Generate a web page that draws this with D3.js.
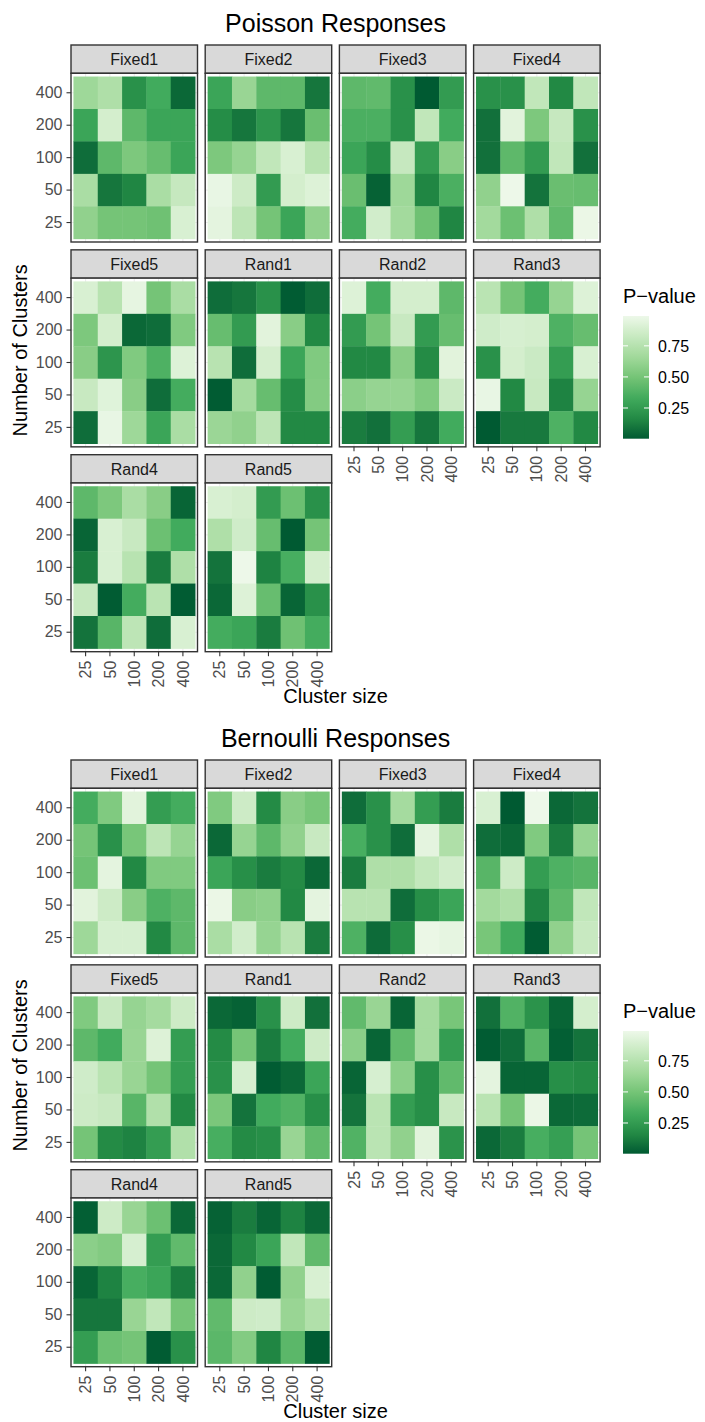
<!DOCTYPE html>
<html>
<head>
<meta charset="utf-8">
<script src="https://cdn.jsdelivr.net/npm/d3@7"></script>
<style>
  body { margin: 0; background: #fff; }
  text { font-family: 'Liberation Sans', Arial, sans-serif; }
</style>
</head>
<body>
<svg id="chart" width="705" height="1422"></svg>
<script>
const clusterSizes = [25, 50, 100, 200, 400];
// rows are listed top to bottom
const clusterCounts = [400, 200, 100, 50, 25];
const panelNames = ['Fixed1', 'Fixed2', 'Fixed3', 'Fixed4', 'Fixed5', 'Rand1', 'Rand2', 'Rand3', 'Rand4', 'Rand5'];

// Poisson responses, p-values
const poissonFixed1 = [
  [0.65, 0.72, 0.20, 0.33, 0.05],
  [0.30, 0.88, 0.42, 0.30, 0.30],
  [0.07, 0.42, 0.53, 0.45, 0.30],
  [0.70, 0.10, 0.15, 0.70, 0.82],
  [0.60, 0.50, 0.50, 0.48, 0.90],
];
const poissonFixed2 = [
  [0.30, 0.63, 0.42, 0.42, 0.10],
  [0.18, 0.10, 0.22, 0.10, 0.46],
  [0.53, 0.62, 0.80, 0.90, 0.76],
  [0.97, 0.85, 0.25, 0.88, 0.92],
  [0.95, 0.78, 0.50, 0.30, 0.60],
];
const poissonFixed3 = [
  [0.42, 0.43, 0.20, 0.003, 0.25],
  [0.36, 0.36, 0.20, 0.80, 0.33],
  [0.30, 0.18, 0.82, 0.25, 0.57],
  [0.46, 0.03, 0.65, 0.15, 0.36],
  [0.34, 0.87, 0.67, 0.48, 0.15],
];
const poissonFixed4 = [
  [0.20, 0.20, 0.80, 0.16, 0.80],
  [0.08, 0.94, 0.53, 0.82, 0.20],
  [0.08, 0.42, 0.25, 0.80, 0.08],
  [0.60, 0.99, 0.09, 0.46, 0.45],
  [0.67, 0.47, 0.72, 0.43, 0.98],
];
const poissonFixed5 = [
  [0.90, 0.76, 0.96, 0.50, 0.70],
  [0.53, 0.88, 0.05, 0.07, 0.54],
  [0.57, 0.22, 0.54, 0.37, 0.92],
  [0.83, 0.93, 0.57, 0.07, 0.34],
  [0.07, 0.97, 0.65, 0.30, 0.70],
];
const poissonRand1 = [
  [0.07, 0.10, 0.20, 0.01, 0.07],
  [0.45, 0.25, 0.94, 0.57, 0.16],
  [0.76, 0.07, 0.88, 0.30, 0.54],
  [0.01, 0.68, 0.45, 0.18, 0.55],
  [0.64, 0.60, 0.78, 0.16, 0.16],
];
const poissonRand2 = [
  [0.92, 0.34, 0.88, 0.88, 0.42],
  [0.25, 0.50, 0.83, 0.25, 0.45],
  [0.16, 0.16, 0.57, 0.17, 0.94],
  [0.58, 0.62, 0.62, 0.54, 0.84],
  [0.12, 0.08, 0.26, 0.10, 0.33],
];
const poissonRand3 = [
  [0.77, 0.50, 0.34, 0.62, 0.92],
  [0.86, 0.89, 0.88, 0.37, 0.45],
  [0.20, 0.88, 0.84, 0.26, 0.90],
  [0.97, 0.16, 0.83, 0.14, 0.62],
  [0.003, 0.11, 0.11, 0.37, 0.16],
];
const poissonRand4 = [
  [0.42, 0.53, 0.70, 0.57, 0.04],
  [0.04, 0.90, 0.83, 0.47, 0.33],
  [0.12, 0.90, 0.76, 0.12, 0.72],
  [0.82, 0.01, 0.34, 0.77, 0.01],
  [0.09, 0.40, 0.78, 0.07, 0.90],
];
const poissonRand5 = [
  [0.90, 0.88, 0.25, 0.47, 0.20],
  [0.72, 0.86, 0.45, 0.003, 0.50],
  [0.09, 0.99, 0.14, 0.35, 0.88],
  [0.05, 0.92, 0.45, 0.04, 0.20],
  [0.34, 0.30, 0.12, 0.48, 0.34],
];

// Bernoulli responses, p-values
const bernoulliFixed1 = [
  [0.34, 0.54, 0.94, 0.26, 0.34],
  [0.50, 0.20, 0.51, 0.78, 0.62],
  [0.47, 0.95, 0.16, 0.54, 0.54],
  [0.94, 0.85, 0.57, 0.37, 0.42],
  [0.65, 0.89, 0.89, 0.16, 0.42],
];
const bernoulliFixed2 = [
  [0.54, 0.85, 0.17, 0.57, 0.51],
  [0.05, 0.62, 0.42, 0.60, 0.83],
  [0.30, 0.19, 0.12, 0.17, 0.05],
  [0.98, 0.57, 0.59, 0.16, 0.95],
  [0.70, 0.87, 0.62, 0.76, 0.12],
];
const bernoulliFixed3 = [
  [0.07, 0.20, 0.68, 0.26, 0.12],
  [0.35, 0.20, 0.07, 0.95, 0.72],
  [0.12, 0.72, 0.72, 0.81, 0.87],
  [0.76, 0.76, 0.07, 0.19, 0.30],
  [0.37, 0.06, 0.19, 0.98, 0.96],
];
const bernoulliFixed4 = [
  [0.90, 0.003, 0.99, 0.05, 0.09],
  [0.07, 0.05, 0.54, 0.12, 0.62],
  [0.40, 0.85, 0.26, 0.37, 0.40],
  [0.67, 0.72, 0.14, 0.42, 0.80],
  [0.51, 0.33, 0.01, 0.60, 0.83],
];
const bernoulliFixed5 = [
  [0.54, 0.83, 0.62, 0.68, 0.85],
  [0.42, 0.33, 0.63, 0.92, 0.26],
  [0.86, 0.77, 0.63, 0.50, 0.26],
  [0.85, 0.83, 0.40, 0.73, 0.16],
  [0.50, 0.17, 0.14, 0.26, 0.73],
];
const bernoulliRand1 = [
  [0.05, 0.03, 0.20, 0.85, 0.08],
  [0.17, 0.50, 0.12, 0.33, 0.85],
  [0.20, 0.89, 0.01, 0.05, 0.30],
  [0.52, 0.09, 0.33, 0.38, 0.19],
  [0.35, 0.17, 0.19, 0.63, 0.43],
];
const bernoulliRand2 = [
  [0.43, 0.63, 0.04, 0.68, 0.51],
  [0.58, 0.04, 0.43, 0.68, 0.26],
  [0.04, 0.89, 0.58, 0.19, 0.43],
  [0.09, 0.77, 0.26, 0.19, 0.83],
  [0.38, 0.77, 0.60, 0.94, 0.21],
];
const bernoulliRand3 = [
  [0.08, 0.38, 0.21, 0.04, 0.88],
  [0.01, 0.07, 0.40, 0.02, 0.09],
  [0.95, 0.04, 0.04, 0.19, 0.17],
  [0.77, 0.50, 0.98, 0.05, 0.06],
  [0.05, 0.12, 0.35, 0.27, 0.50],
];
const bernoulliRand4 = [
  [0.02, 0.85, 0.63, 0.47, 0.05],
  [0.58, 0.55, 0.89, 0.26, 0.43],
  [0.04, 0.14, 0.35, 0.30, 0.12],
  [0.10, 0.10, 0.63, 0.80, 0.50],
  [0.26, 0.47, 0.50, 0.01, 0.20],
];
const bernoulliRand5 = [
  [0.03, 0.12, 0.04, 0.14, 0.05],
  [0.05, 0.16, 0.30, 0.80, 0.43],
  [0.05, 0.60, 0.01, 0.60, 0.90],
  [0.43, 0.85, 0.86, 0.63, 0.73],
  [0.41, 0.55, 0.15, 0.41, 0.01],
];

const legendTicks = [0.25, 0.5, 0.75];
// ColorBrewer Greens (7), reversed: low p-value = dark
const greens = ['#005A32', '#238B45', '#41AB5D', '#74C476', '#A1D99B', '#C7E9C0', '#EDF8E9'];

const poisson = [poissonFixed1, poissonFixed2, poissonFixed3, poissonFixed4, poissonFixed5,
  poissonRand1, poissonRand2, poissonRand3, poissonRand4, poissonRand5];
const bernoulli = [bernoulliFixed1, bernoulliFixed2, bernoulliFixed3, bernoulliFixed4, bernoulliFixed5,
  bernoulliRand1, bernoulliRand2, bernoulliRand3, bernoulliRand4, bernoulliRand5];

const svg = d3.select('#chart');

const panelLeft = 71;
const panelPitchX = 134.2;
const panelWidth = 126.5;
const stripTop = 45;
const stripHeight = 28.3;
const panelHeight = 168.7;
const rowPitch = 204.85;
const lineColor = '#333333';

const drawPlot = (offsetY, title, panels, idPrefix) => {
  const g = svg.append('g').attr('transform', `translate(0, ${offsetY})`);
  const all = panels.flat(2);
  const extent = d3.extent(all);
  const ramp = d3.piecewise(d3.interpolateLab, greens);
  const fill = (v) => ramp((v - extent[0]) / (extent[1] - extent[0]));

  const x = d3.scaleBand().domain(clusterSizes).range([0, panelWidth]).paddingOuter(0.1);
  const y = d3.scaleBand().domain(clusterCounts).range([0, panelHeight]).paddingOuter(0.1);

  const areaRight = panelLeft + 3 * panelPitchX + panelWidth;
  const areaBottom = stripTop + 2 * rowPitch + stripHeight + panelHeight;

  g.append('text')
    .attr('x', (panelLeft + areaRight) / 2)
    .attr('y', 31.5)
    .attr('text-anchor', 'middle')
    .attr('font-size', 25)
    .attr('fill', '#000')
    .text(title);

  panels.forEach((cells, i) => {
    const col = i % 4;
    const row = Math.floor(i / 4);
    const x0 = panelLeft + col * panelPitchX;
    const y0 = stripTop + row * rowPitch;

    // strip
    g.append('rect')
      .attr('x', x0)
      .attr('y', y0)
      .attr('width', panelWidth)
      .attr('height', stripHeight)
      .attr('fill', '#D9D9D9')
      .attr('stroke', lineColor)
      .attr('stroke-width', 1.4);
    g.append('text')
      .attr('x', x0 + panelWidth / 2)
      .attr('y', y0 + stripHeight / 2)
      .attr('dy', '0.36em')
      .attr('text-anchor', 'middle')
      .attr('font-size', 16)
      .attr('fill', '#1A1A1A')
      .text(panelNames[i]);

    const p = g.append('g').attr('transform', `translate(${x0}, ${y0 + stripHeight})`);
    p.append('rect').attr('width', panelWidth).attr('height', panelHeight).attr('fill', '#fff');

    p.selectAll('.gx')
      .data(clusterSizes)
      .enter()
      .append('line')
      .attr('x1', (d) => x(d) + x.bandwidth() / 2)
      .attr('x2', (d) => x(d) + x.bandwidth() / 2)
      .attr('y1', 0)
      .attr('y2', panelHeight)
      .attr('stroke', '#EBEBEB')
      .attr('stroke-width', 1);
    p.selectAll('.gy')
      .data(clusterCounts)
      .enter()
      .append('line')
      .attr('y1', (d) => y(d) + y.bandwidth() / 2)
      .attr('y2', (d) => y(d) + y.bandwidth() / 2)
      .attr('x1', 0)
      .attr('x2', panelWidth)
      .attr('stroke', '#EBEBEB')
      .attr('stroke-width', 1);

    const tiles = [];
    cells.forEach((r, ri) => {
      r.forEach((v, ci) => {
        tiles.push({ size: clusterSizes[ci], count: clusterCounts[ri], value: v });
      });
    });

    p.selectAll('.tile')
      .data(tiles)
      .enter()
      .append('rect')
      .attr('class', 'tile')
      .attr('x', (d) => x(d.size))
      .attr('y', (d) => y(d.count))
      .attr('width', x.bandwidth() + 0.4)
      .attr('height', y.bandwidth() + 0.4)
      .attr('fill', (d) => fill(d.value));

    p.append('rect')
      .attr('width', panelWidth)
      .attr('height', panelHeight)
      .attr('fill', 'none')
      .attr('stroke', lineColor)
      .attr('stroke-width', 1.4);

    if (col === 0) {
      const ay = p.append('g').call(d3.axisLeft(y).tickSize(4.5).tickPadding(4));
      ay.select('.domain').remove();
      ay.selectAll('line').attr('stroke', lineColor).attr('stroke-width', 1.1);
      ay.selectAll('text')
        .attr('font-size', 16)
        .attr('fill', '#4D4D4D');
      ay.attr('font-family', null).attr('font-size', null);
    }

    // x axis on the last panel of each column
    if (i + 4 >= panels.length) {
      const ax = p.append('g')
        .attr('transform', `translate(0, ${panelHeight})`)
        .call(d3.axisBottom(x).tickSize(4.5));
      ax.select('.domain').remove();
      ax.attr('font-family', null).attr('font-size', null);
      ax.selectAll('line').attr('stroke', lineColor).attr('stroke-width', 1.1);
      ax.selectAll('text')
        .attr('x', 0)
        .attr('y', 0)
        .attr('dy', '0.35em')
        .attr('transform', 'translate(0, 9) rotate(-90)')
        .attr('text-anchor', 'end')
        .attr('font-size', 16)
        .attr('fill', '#4D4D4D');
    }
  });

  g.append('text')
    .attr('x', (panelLeft + areaRight) / 2)
    .attr('y', 703)
    .attr('text-anchor', 'middle')
    .attr('font-size', 20)
    .attr('fill', '#000')
    .text('Cluster size');

  g.append('text')
    .attr('transform', `translate(26.5, ${(stripTop + areaBottom) / 2 + 2}) rotate(-90)`)
    .attr('text-anchor', 'middle')
    .attr('font-size', 20)
    .attr('fill', '#000')
    .text('Number of Clusters');

  // legend
  const barX = 623;
  const barW = 26;
  const barTop = 316;
  const barH = 122.7;
  const ly = d3.scaleLinear().domain(extent).range([barTop + barH, barTop]);

  const grad = svg.append('defs')
    .append('linearGradient')
    .attr('id', idPrefix + 'Grad')
    .attr('x1', 0)
    .attr('y1', 1)
    .attr('x2', 0)
    .attr('y2', 0);
  grad.selectAll('stop')
    .data(d3.range(0, 1.0001, 0.05))
    .enter()
    .append('stop')
    .attr('offset', (d) => d)
    .attr('stop-color', (d) => ramp(d));

  g.append('text')
    .attr('x', barX)
    .attr('y', 302.7)
    .attr('font-size', 20)
    .attr('fill', '#000')
    .text('P\u2212value');

  g.append('rect')
    .attr('x', barX)
    .attr('y', barTop)
    .attr('width', barW)
    .attr('height', barH)
    .attr('fill', `url(#${idPrefix}Grad)`);

  const lt = g.selectAll('.lt')
    .data(legendTicks)
    .enter()
    .append('g')
    .attr('transform', (d) => `translate(0, ${ly(d)})`);
  lt.append('line')
    .attr('x1', barX)
    .attr('x2', barX + 5)
    .attr('stroke', '#fff')
    .attr('stroke-width', 1);
  lt.append('line')
    .attr('x1', barX + barW - 5)
    .attr('x2', barX + barW)
    .attr('stroke', '#fff')
    .attr('stroke-width', 1);
  lt.append('text')
    .attr('x', barX + barW + 9)
    .attr('dy', '0.36em')
    .attr('font-size', 16)
    .attr('fill', '#000')
    .text((d) => d.toFixed(2));
};

drawPlot(0, 'Poisson Responses', poisson, 'pois');
drawPlot(715, 'Bernoulli Responses', bernoulli, 'bern');
</script>
</body>
</html>
